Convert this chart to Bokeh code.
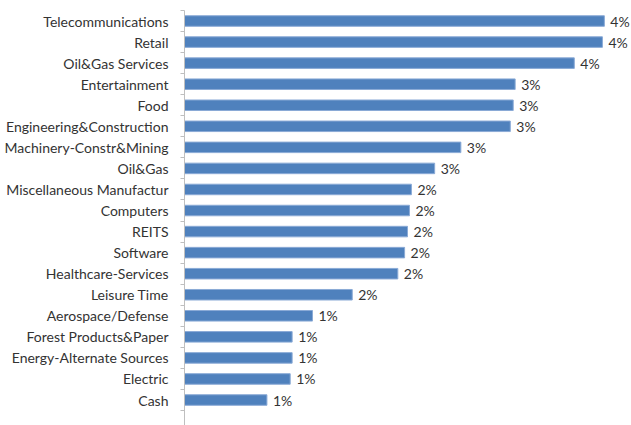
from bokeh.plotting import figure
from bokeh.models import ColumnDataSource, FixedTicker, Range1d
from bokeh.core.properties import value
from bokeh.embed import file_html
from bokeh.resources import INLINE

categories = [
    "Telecommunications", "Retail", "Oil&Gas Services", "Entertainment", "Food",
    "Engineering&Construction", "Machinery-Constr&Mining", "Oil&Gas",
    "Miscellaneous Manufactur", "Computers", "REITS", "Software",
    "Healthcare-Services", "Leisure Time", "Aerospace/Defense",
    "Forest Products&Paper", "Energy-Alternate Sources", "Electric", "Cash",
]
values = [4.33, 4.31, 4.02, 3.41, 3.39, 3.36, 2.85, 2.58, 2.34, 2.32, 2.30,
          2.27, 2.20, 1.73, 1.32, 1.11, 1.11, 1.09, 0.85]
value_labels = [f"{v:.0f}%" for v in values]

n = len(categories)
ypos = [n - 1 - i for i in range(n)]

src = ColumnDataSource(dict(y=ypos, v=values, cat=categories, lab=value_labels))

FONT = "Lato"

p = figure(width=631, height=425, output_backend="svg", toolbar_location=None,
           x_range=Range1d(0, 4.61), y_range=Range1d(-1.21, n - 0.5),
           x_axis_location=None, min_border_left=184, min_border_right=0,
           min_border_top=10, min_border_bottom=0)
p.outline_line_color = None
p.xgrid.visible = False
p.ygrid.visible = False
p.background_fill_color = "white"
p.border_fill_color = "white"

p.hbar(y="y", left=0, right="v", height=0.5, source=src,
       fill_color="#4F81BD", line_color="#8AAAD6", line_width=1)

p.text(x="v", y="y", text="lab", source=src, x_offset=6,
       text_font=value(FONT), text_font_size="14px", text_color="#333333",
       text_baseline="middle", text_align="left")

ax = p.yaxis[0]
ax.ticker = FixedTicker(ticks=ypos, minor_ticks=[k - 0.5 for k in range(-1, n + 1)])
ax.major_label_overrides = {y: c for y, c in zip(ypos, categories)}
ax.major_tick_out = 0
ax.major_tick_in = 0
ax.minor_tick_out = 4
ax.minor_tick_in = 0
ax.minor_tick_line_color = "#BFBFBF"
ax.axis_line_color = "#BFBFBF"
ax.major_label_standoff = 12
ax.major_label_text_font = FONT
ax.major_label_text_font_size = "14px"
ax.major_label_text_color = "#333333"

open("out.html", "w").write(file_html(p, INLINE))
